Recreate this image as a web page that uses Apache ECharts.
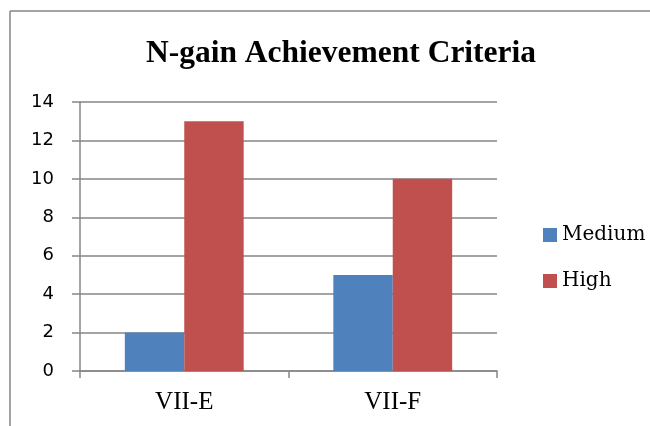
<!DOCTYPE html>
<html><head><meta charset="utf-8">
<script src="https://cdn.jsdelivr.net/npm/echarts@6/dist/echarts.min.js"></script>
<style>html,body{margin:0;padding:0;background:#fff}#c{width:650px;height:426px}</style>
</head><body><div id="c"></div>
<script>
const categories = ['VII-E', 'VII-F'];
const mediumValues = [2, 5];
const highValues = [13, 10];
const yTicks = [0, 2, 4, 6, 8, 10, 12, 14];

const chart = echarts.init(document.getElementById('c'));
chart.setOption({
  animation: false,
  backgroundColor: '#fff',
  title: {
    text: 'N-gain Achievement Criteria',
    left: 336, top: 33, textAlign: 'center',
    textStyle: {fontFamily: 'Liberation Serif', fontWeight: 'bold', fontSize: 31.5, color: '#000'}
  },
  legend: {
    orient: 'vertical', left: 538, top: 220, itemGap: 26,
    itemWidth: 14, itemHeight: 14, icon: 'rect',
    textStyle: {fontFamily: 'DejaVu Serif', fontSize: 20, color: '#000'},
    data: ['Medium', 'High']
  },
  grid: {left: 80, right: 153, top: 102, bottom: 55, containLabel: false},
  xAxis: {
    type: 'category', data: categories,
    axisLine: {lineStyle: {color: '#868686', width: 1.5}},
    axisTick: {show: true, length: 7, alignWithLabel: false, lineStyle: {color: '#868686', width: 1.5}},
    axisLabel: {fontFamily: 'Liberation Serif', fontSize: 25, color: '#000', margin: 19}
  },
  yAxis: {
    type: 'value', min: yTicks[0], max: yTicks[yTicks.length - 1], interval: 2,
    axisLine: {show: true, lineStyle: {color: '#868686', width: 1.5}},
    axisTick: {show: true, length: 8, lineStyle: {color: '#868686', width: 1.5}},
    splitLine: {lineStyle: {color: '#868686', width: 1.5}},
    axisLabel: {fontFamily: 'DejaVu Sans', fontSize: 18, color: '#000', margin: 26}
  },
  series: [
    {name: 'Medium', type: 'bar', data: mediumValues, barGap: '0%', barCategoryGap: '43%',
     itemStyle: {color: '#4F81BD'}},
    {name: 'High', type: 'bar', data: highValues, barGap: '0%', barCategoryGap: '43%',
     itemStyle: {color: '#C0504D'}}
  ],
  graphic: [
    {type: 'line', shape: {x1: 10, y1: 11, x2: 650, y2: 11}, style: {stroke: '#868686', lineWidth: 1.5}},
    {type: 'line', shape: {x1: 10, y1: 11, x2: 10, y2: 426}, style: {stroke: '#868686', lineWidth: 1.5}}
  ]
});
</script></body></html>
